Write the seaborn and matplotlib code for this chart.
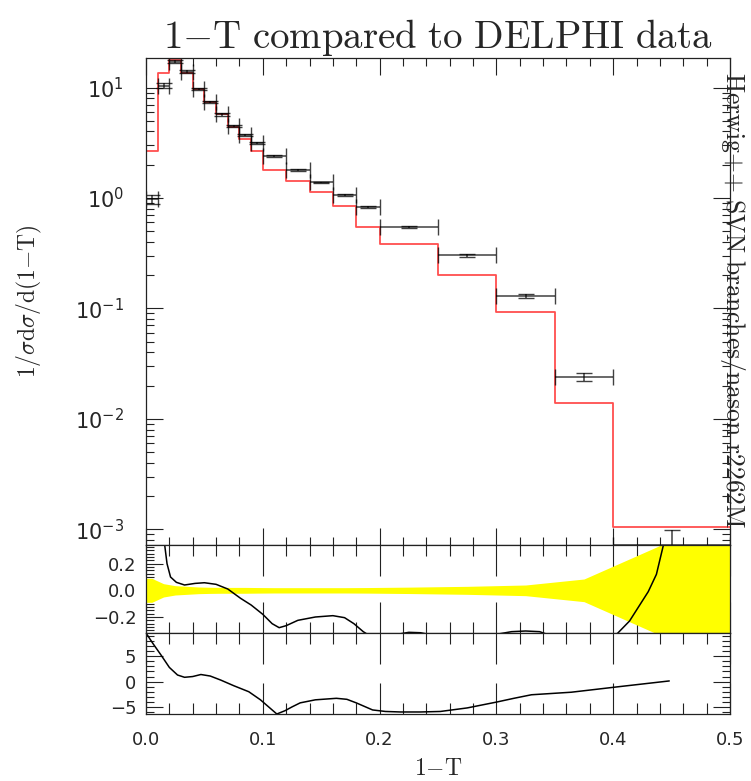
import numpy as np
import pandas as pd
import matplotlib
matplotlib.use("Agg")
import matplotlib.pyplot as plt
import seaborn as sns
from matplotlib.ticker import MultipleLocator, LogLocator, NullFormatter, FuncFormatter

# ---------------- data ----------------
bin_edges = [0.0, 0.01, 0.02, 0.03, 0.04, 0.05, 0.06, 0.07, 0.08, 0.09, 0.10,
             0.12, 0.14, 0.16, 0.18, 0.20, 0.25, 0.30, 0.35, 0.40, 0.50]
mc_values = [2.65, 13.6, 17.7, 13.6, 9.7, 7.4, 5.7, 4.4, 3.4, 2.65, 1.79,
             1.43, 1.125, 0.854, 0.545, 0.383, 0.20, 0.093, 0.014, 0.00105]
data_values = [0.97, 10.4, 17.1, 13.9, 9.7, 7.4, 5.7, 4.5, 3.7, 3.15, 2.42,
               1.79, 1.38, 1.06, 0.82, 0.548, 0.303, 0.13, 0.0238, 0.00072]
data_rel_err = [0.09, 0.05, 0.035, 0.03, 0.025, 0.023, 0.022, 0.022, 0.022, 0.021,
                0.02, 0.02, 0.02, 0.02, 0.021, 0.024, 0.03, 0.04, 0.085, 0.375]

ratio1_x = [0.014, 0.016, 0.018, 0.021, 0.026, 0.033, 0.042, 0.05, 0.06, 0.07,
            0.081, 0.09, 0.10, 0.108, 0.114, 0.12, 0.13, 0.145, 0.16, 0.17,
            0.178, 0.186, 0.195, 0.205, 0.215, 0.225, 0.235, 0.245, 0.26, 0.28,
            0.30, 0.313, 0.325, 0.337, 0.35, 0.365, 0.38, 0.395, 0.404, 0.414,
            0.422, 0.43, 0.437, 0.443, 0.45]
ratio1_y = [0.60, 0.34, 0.20, 0.10, 0.06, 0.04, 0.052, 0.057, 0.045, 0.01,
            -0.06, -0.11, -0.18, -0.25, -0.28, -0.265, -0.225, -0.20, -0.19, -0.205,
            -0.25, -0.31, -0.36, -0.36, -0.33, -0.315, -0.318, -0.335, -0.37, -0.37,
            -0.33, -0.31, -0.305, -0.31, -0.35, -0.40, -0.42, -0.38, -0.32, -0.23,
            -0.12, -0.01, 0.12, 0.34, 0.50]

ratio2_x = [0.0, 0.006, 0.013, 0.02, 0.027, 0.033, 0.04, 0.047, 0.055, 0.064,
            0.075, 0.088, 0.098, 0.105, 0.112, 0.119, 0.125, 0.132, 0.145, 0.163,
            0.172, 0.18, 0.194, 0.205, 0.218, 0.235, 0.252, 0.275, 0.30, 0.315,
            0.33, 0.364, 0.405, 0.448]
ratio2_y = [9.6, 7.5, 5.2, 2.8, 1.3, 0.85, 1.0, 1.4, 1.1, 0.3,
            -0.8, -2.0, -3.6, -5.0, -6.4, -5.75, -5.0, -4.2, -3.6, -3.3,
            -3.5, -4.2, -5.6, -5.9, -6.0, -6.0, -5.9, -5.2, -4.05, -3.3,
            -2.6, -2.1, -1.0, 0.13]

title_text = r"$\mathrm{1{-}T\ compared\ to\ DELPHI\ data}$"
ylabel_text = r"$\mathrm{1/}\sigma\mathrm{d}\sigma\mathrm{/d(1{-}T)}$"
xlabel_text = r"$\mathrm{1{-}T}$"
side_text = r"$\mathrm{Herwig{+}{+}\ SVN\ branches/nason\ r2262M}$"

# ---------------- derived tables ----------------
edges = np.array(bin_edges)
centers = 0.5 * (edges[:-1] + edges[1:])
halfw = 0.5 * (edges[1:] - edges[:-1])
dvals = np.array(data_values)
derr = np.array(data_rel_err) * dvals

hist_df = pd.DataFrame({"x": edges, "y": list(mc_values) + [mc_values[-1]]})
r1_df = pd.DataFrame({"x": ratio1_x, "y": ratio1_y})
r2_df = pd.DataFrame({"x": ratio2_x, "y": ratio2_y})
band_x = np.concatenate([[edges[0]], centers, [edges[-1]]])
band_r = np.concatenate([[data_rel_err[0]], data_rel_err, [data_rel_err[-1]]])

# ---------------- style ----------------
sns.set_style("ticks")
plt.rcParams["font.family"] = ["DejaVu Sans"]
plt.rcParams["axes.linewidth"] = 0.9
plt.rcParams["axes.edgecolor"] = "#222222"

W, H = 751, 781
fig = plt.figure(figsize=(W / 100, H / 100), dpi=100)
L, R = 146, 730
def box(top, bottom):
    return [L / W, 1 - bottom / H, (R - L) / W, (bottom - top) / H]

ax = fig.add_axes(box(58, 545))
ax1 = fig.add_axes(box(545, 633), sharex=ax)
ax2 = fig.add_axes(box(633, 714), sharex=ax)

ymin_main, ymax_main = 7.2e-4, 18.5

def umin(fmt):
    return FuncFormatter(lambda v, p: fmt.format(v).replace("-", "\u2212"))

# main panel
sns.lineplot(data=hist_df, x="x", y="y", drawstyle="steps-post", ax=ax,
             color="#ff3030", alpha=0.85, linewidth=1.3, estimator=None)
ax.vlines(edges[0], ymin_main, mc_values[0], color="#ff3030", alpha=0.85, linewidth=1.3)
ax.errorbar(centers, dvals, xerr=halfw, yerr=derr, fmt="none", ecolor="black",
            elinewidth=1.1, capsize=6, capthick=1.0, alpha=0.75)
ax.set_yscale("log")
ax.set_ylim(ymin_main, ymax_main)
ax.set_xlim(0, 0.5)
ax.set_ylabel(ylabel_text, fontsize=17, math_fontfamily="cm")
ax.set_xlabel("")
ax.yaxis.set_label_coords(-0.175, 0.5)
ax.yaxis.set_major_locator(LogLocator(base=10))
ax.yaxis.set_minor_locator(LogLocator(base=10, subs=np.arange(2, 10)))
ax.yaxis.set_minor_formatter(NullFormatter())
ax.set_title(title_text, fontsize=28, math_fontfamily="cm", pad=0)

# ratio panel 1
ax1.fill_between(band_x, -band_r, band_r, color="#ffff00", linewidth=0)
sns.lineplot(data=r1_df, x="x", y="y", sort=False, estimator=None, ax=ax1,
             color="black", linewidth=1.1)
ax1.set_ylim(-0.32, 0.34)
ax1.yaxis.set_major_locator(MultipleLocator(0.2))
ax1.yaxis.set_minor_locator(MultipleLocator(0.025))
ax1.set_xlabel("")
ax1.set_ylabel("")

# ratio panel 2
sns.lineplot(data=r2_df, x="x", y="y", sort=False, estimator=None, ax=ax2,
             color="black", linewidth=1.1)
ax2.set_ylim(-6.4, 9.6)
ax2.yaxis.set_major_locator(MultipleLocator(5))
ax2.yaxis.set_minor_locator(MultipleLocator(1))
ax2.set_ylabel("")
ax2.set_xlabel(xlabel_text, fontsize=17, math_fontfamily="cm", labelpad=5)

for a in (ax, ax1, ax2):
    a.xaxis.set_major_locator(MultipleLocator(0.1))
    a.xaxis.set_minor_locator(MultipleLocator(0.02))
    a.tick_params(which="both", direction="in", top=True, right=True,
                  color="#222222", width=0.8, labelsize=13)
    a.set_xlim(0, 0.5)
    for s in a.spines.values():
        s.set_visible(True)

ax.tick_params(which="major", length=12, pad=16)
ax.tick_params(axis="y", which="major", labelsize=15)
ax.tick_params(which="minor", length=6)
ax.tick_params(axis="x", labelbottom=False)
ax1.tick_params(axis="x", which="major", length=22)
ax1.tick_params(axis="x", which="minor", length=8)
ax1.tick_params(axis="y", which="major", length=12, pad=7)
ax1.tick_params(axis="y", which="minor", length=6)
ax1.tick_params(axis="x", labelbottom=False)
ax2.tick_params(axis="x", which="major", length=22, pad=12)
ax2.tick_params(axis="x", which="minor", length=8)
ax2.tick_params(axis="y", which="major", length=12, pad=7)
ax2.tick_params(axis="y", which="minor", length=6)
ax2.xaxis.set_major_formatter(umin("{:.1f}"))
ax1.yaxis.set_major_formatter(umin("{:.1f}"))
ax2.yaxis.set_major_formatter(umin("{:.0f}"))

fig.text(733 / W, 1 - 300 / H, side_text, rotation=270, ha="center", va="center",
         fontsize=18.5, math_fontfamily="cm")

fig.savefig("out.png", dpi=100)
